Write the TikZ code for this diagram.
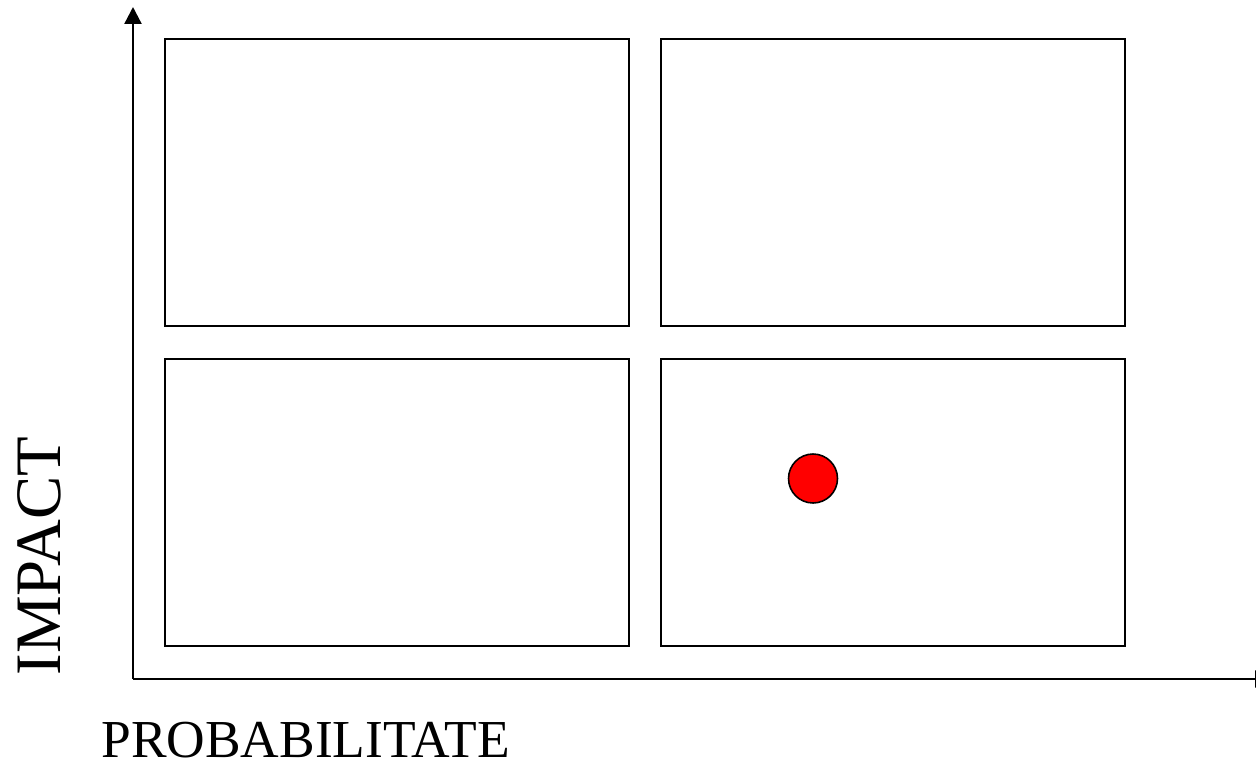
\documentclass[tikz,border=0pt]{standalone}
\usepackage{fontspec}
\setmainfont{Liberation Serif}
\usepackage{xcolor}
\usetikzlibrary{arrows.meta,positioning,calc}

\begin{document}
\begin{tikzpicture}[
    x=0.02cm,
    y=-0.02cm,
    >={Triangle[length=0.34cm,width=0.34cm]},
    quad/.style={
        draw=black,
        line width=1.35pt,
        minimum width=9.28cm,
        minimum height=5.74cm,
        inner sep=0pt,
        fill=white
    },
    dot/.style={
        circle,
        draw=black,
        line width=0.9pt,
        fill=red,
        minimum size=0.98cm,
        inner sep=0pt
    },
    axis/.style={->, line width=1.35pt},
    lbl/.style={inner sep=0pt, anchor=base}
]
\useasboundingbox (0,0) rectangle (1256,761);

% axes
\coordinate (origin) at (133,679);
\coordinate (ytop) at (133,7);
\coordinate (xend) at (1272,679);

\draw[axis] (origin) -- (ytop);
\draw[axis] (origin) -- (xend);

% quadrants
\node[quad] (hl) at (397,182.5) {};
\node[quad] (hh) at (893,182.5) {};
\node[quad] (ll) at (397,502.5) {};
\node[quad] (lh) at (893,502.5) {};

% risk marker
\node[dot] (risk) at (813,478.5) {};

% axis labels
\node[lbl, font=\fontsize{36.9}{42}\selectfont, rotate=90] (impact) at (60,556) {IMPACT};
\node[lbl, font=\fontsize{30.4}{35}\selectfont] (prob) at (305.5,757) {PROBABILITATE};

\end{tikzpicture}
\end{document}
